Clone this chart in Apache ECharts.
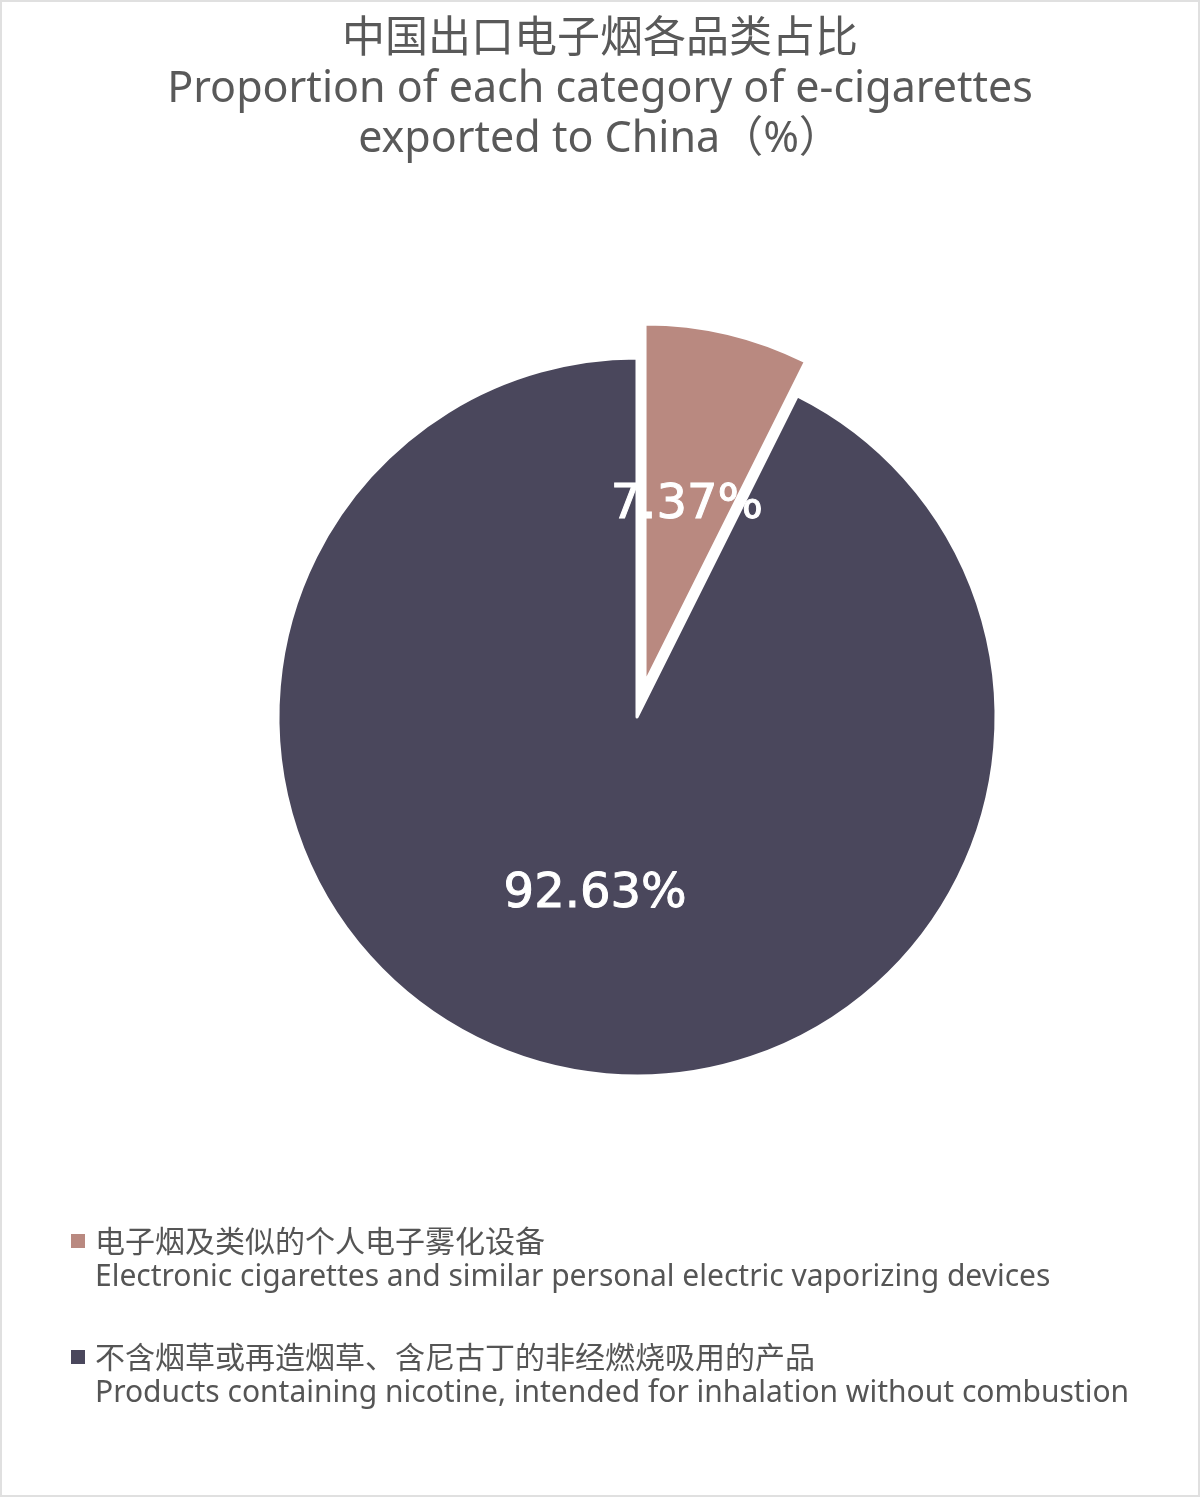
<!DOCTYPE html>
<html>
<head>
<meta charset="utf-8">
<script src="https://cdn.jsdelivr.net/npm/echarts@6/dist/echarts.min.js"></script>
<style>
  html, body { margin: 0; padding: 0; background: #fff; }
  #chart { width: 1200px; height: 1497px; box-sizing: border-box; border: 2px solid #e0e0e0; }
</style>
</head>
<body>
<div id="chart"></div>
<script>
// 标题
const titleCn = '中国出口电子烟各品类占比'
const titleEn = ['Proportion of each category of e-cigarettes', 'exported to China（%）']
// 品类名称（中文 / 英文）
const namesCn = ['电子烟及类似的个人电子雾化设备', '不含烟草或再造烟草、含尼古丁的非经燃烧吸用的产品']
const namesEn = ['Electronic cigarettes and similar personal electric vaporizing devices',
                 'Products containing nicotine, intended for inhalation without combustion']
// 占比 %
const shares = [7.37, 92.63]
const colors = ['#B98980', '#4A475C']

const cnFont = '"Noto Sans CJK SC", sans-serif'
const enFont = '"Noto Sans", "Noto Sans CJK SC", sans-serif'

let pieData = shares.map((v, i) => ({
    name: namesCn[i],
    value: v,
    selected: i === 0,
    itemStyle: { color: colors[i] }
}))

let option = {
    title: {
        text: '{cn|' + titleCn + '}\n' + titleEn.map(t => '{en|' + t + '}').join('\n'),
        left: 'center',
        top: 0,
        textStyle: {
            fontWeight: 'normal',
            color: '#595959',
            rich: {
                cn: { fontFamily: cnFont, fontSize: 43, lineHeight: 58, color: '#595959', align: 'center' },
                en: { fontFamily: enFont, fontSize: 43, lineHeight: 50, color: '#595959', align: 'center' }
            }
        }
    },
    legend: {
        orient: 'vertical',
        left: 62,
        top: 1219,
        itemWidth: 16,
        itemHeight: 16,
        itemGap: 50,
        icon: 'rect',
        selectedMode: false,
        data: namesCn,
        formatter: function (name) {
            let i = namesCn.indexOf(name)
            return '{cn|' + namesCn[i] + '}\n{en|' + namesEn[i] + '}'
        },
        textStyle: {
            color: '#555',
            padding: [36, 0, 0, 4],
            rich: {
                cn: { fontFamily: cnFont, fontSize: 30, lineHeight: 36, color: '#555' },
                en: { fontFamily: enFont, fontSize: 30, lineHeight: 36, color: '#555' }
            }
        }
    },
    series: [{
        type: 'pie',
        center: [635, 715],
        radius: 359,
        startAngle: 90,
        selectedMode: 'single',
        selectedOffset: 35,
        silent: true,
        itemStyle: { borderColor: '#fff', borderWidth: 3 },
        label: {
            position: 'inside',
            formatter: '{c}%',
            color: '#fff',
            fontFamily: '"DejaVu Sans", sans-serif',
            fontSize: 48,
            textBorderColor: '#fff',
            textBorderWidth: 1
        },
        labelLine: { show: false },
        data: pieData
    }]
}

let mychart = echarts.init(document.getElementById('chart'))
mychart.setOption(option)
</script>
</body>
</html>
